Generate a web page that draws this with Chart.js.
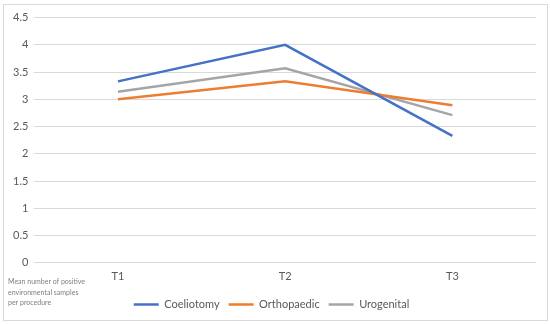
<!DOCTYPE html>
<html>
<head>
<meta charset="utf-8">
<script src="https://cdn.jsdelivr.net/npm/chart.js@4"></script>
<style>
  body { margin: 0; background: #fff; }
  #wrap { position: absolute; left: 3px; top: 4px; width: 543px; height: 315px; border: 1px solid #d9d9d9; }
</style>
</head>
<body>
<div id="wrap"><canvas id="chart" width="543" height="315"></canvas></div>
<script>
// Mean positive environmental samples per procedure, by time point
const TIMEPOINTS   = ['T1', 'T2', 'T3'];
const COELIOTOMY   = [3.33, 4.0, 2.33];
const ORTHOPAEDIC  = [3.0, 3.33, 2.89];
const UROGENITAL   = [3.14, 3.57, 2.71];
const Y_MIN = 0, Y_MAX = 4.5, Y_STEP = 0.5;
const AXIS_TITLE = ['Mean number of positive', 'environmental samples', 'per procedure'];

const FONT = 'Lato, "Open Sans", sans-serif';
const TEXT = '#595959';

// axis title sits in the lower-left corner, like the original
const cornerTitle = {
  id: 'cornerTitle',
  afterDraw(chart) {
    const ctx = chart.ctx;
    ctx.save();
    ctx.font = '7px ' + FONT;
    ctx.fillStyle = '#7f7f7f';
    ctx.textBaseline = 'middle';
    AXIS_TITLE.forEach((line, i) => ctx.fillText(line, 4, 277 + i * 10.5));
    ctx.restore();
  }
};

const series = (label, data, color) => ({
  label, data,
  borderColor: color,
  backgroundColor: color,
  borderWidth: 2.5,
  pointRadius: 0,
  tension: 0,
});

new Chart(document.getElementById('chart'), {
  type: 'line',
  data: {
    labels: TIMEPOINTS,
    datasets: [
      series('Coeliotomy', COELIOTOMY, '#4472C4'),
      series('Orthopaedic', ORTHOPAEDIC, '#ED7D31'),
      series('Urogenital', UROGENITAL, '#A5A5A5'),
    ],
  },
  options: {
    responsive: false,
    animation: false,
    layout: { padding: { left: 3, right: 11, top: 6, bottom: 0 } },
    plugins: {
      tooltip: { enabled: false },
      legend: {
        position: 'bottom',
        labels: {
          usePointStyle: true,
          pointStyle: 'line',
          pointStyleWidth: 25,
          boxHeight: 2,
          color: TEXT,
          font: { family: FONT, size: 11 },
          padding: 9,
        },
      },
    },
    scales: {
      x: {
        offset: true,
        grid: { display: false, drawTicks: false },
        border: { display: false },
        ticks: { color: TEXT, font: { family: FONT, size: 11 }, padding: 7 },
      },
      y: {
        min: Y_MIN, max: Y_MAX,
        ticks: {
          stepSize: Y_STEP, color: TEXT, font: { family: FONT, size: 11 }, padding: 6,
          callback: v => String(v),
        },
        grid: { color: '#d9d9d9', drawTicks: false },
        border: { display: false },
      },
    },
  },
  plugins: [cornerTitle],
});
</script>
</body>
</html>
